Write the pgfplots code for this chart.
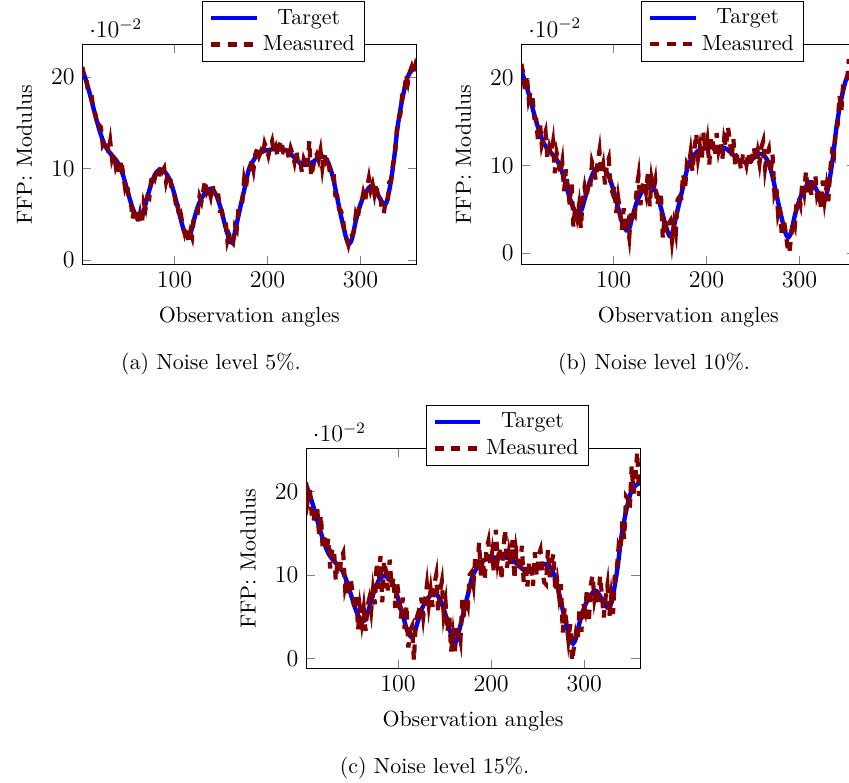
\documentclass[border=0pt]{standalone}
\usepackage{pgfplots}
\usepackage{pgfplotstable}
\pgfplotsset{compat=1.18}
\definecolor{tgtblue}{RGB}{0,0,255}
\definecolor{measred}{RGB}{128,0,0}

% values in units of 10^-2
\pgfplotstableread[row sep=\\]{
x y\\
1 20.8\\ 5 19.6\\ 10 17.8\\ 15 15.8\\ 20 14.0\\ 25 12.6\\ 30 11.8\\ 35 11.2\\ 40 10.5\\ 45 9.2\\
50 7.4\\ 55 5.7\\ 60 4.6\\ 63 4.5\\ 66 5.0\\ 70 6.5\\ 75 8.3\\ 80 9.5\\ 85 9.9\\ 90 9.6\\
95 8.8\\ 100 7.2\\ 105 5.2\\ 110 3.3\\ 114 2.6\\ 117 2.8\\ 120 4.0\\ 125 5.8\\ 130 6.9\\ 135 7.6\\
140 7.8\\ 145 7.1\\ 150 5.6\\ 155 3.6\\ 160 2.0\\ 163 2.2\\ 167 4.0\\ 172 6.3\\ 176 8.1\\ 180 9.9\\
185 10.9\\ 190 11.6\\ 195 11.9\\ 200 12.0\\ 205 12.1\\ 210 12.1\\ 215 12.1\\ 220 12.0\\ 225 11.6\\ 230 11.1\\
235 10.6\\ 240 10.4\\ 245 10.5\\ 250 10.8\\ 255 11.2\\ 260 11.3\\ 265 10.7\\ 270 9.2\\ 275 6.8\\ 280 4.4\\
285 2.3\\ 288 1.8\\ 291 2.4\\ 295 4.3\\ 300 6.1\\ 305 7.3\\ 310 8.0\\ 313 8.1\\ 317 7.5\\ 320 6.9\\
325 6.1\\ 328 6.3\\ 332 8.2\\ 336 11.0\\ 340 14.6\\ 345 17.6\\ 350 19.8\\ 355 20.7\\ 360 21.0\\
}\target

\pgfplotstableread[row sep=\\]{
x y\\
1 21.1\\ 3 20.0\\ 5 20.1\\ 7 18.48\\ 9 18.26\\ 11 18.0\\ 13 16.3\\ 15 16.0\\ 17 14.58\\ 19 14.76\\
21 14.52\\ 23 12.56\\ 25 12.9\\ 27 13.18\\ 29 11.76\\ 31 12.98\\ 33 11.04\\ 35 11.7\\ 37 10.22\\ 39 10.84\\
41 9.24\\ 43 10.92\\ 45 9.3\\ 47 7.88\\ 49 8.46\\ 51 6.76\\ 53 6.58\\ 55 4.5\\ 57 5.76\\ 59 5.12\\
61 4.17\\ 63 5.1\\ 65 3.93\\ 67 6.28\\ 69 5.63\\ 71 6.96\\ 73 6.78\\ 75 8.7\\ 77 9.48\\ 79 8.96\\
81 9.78\\ 83 9.14\\ 85 10.3\\ 87 9.68\\ 89 10.06\\ 91 8.54\\ 93 9.42\\ 95 9.4\\ 97 7.76\\ 99 7.72\\
101 6.5\\ 103 6.8\\ 105 4.5\\ 107 4.94\\ 109 3.78\\ 111 2.93\\ 113 3.68\\ 115 2.17\\ 117 3.1\\ 119 2.5\\
121 4.76\\ 123 5.28\\ 125 5.2\\ 127 6.94\\ 129 6.38\\ 131 7.54\\ 133 8.72\\ 135 7.4\\ 137 7.78\\ 139 6.96\\
141 8.26\\ 143 6.98\\ 145 7.4\\ 147 7.3\\ 149 5.4\\ 151 5.4\\ 153 4.3\\ 155 4.3\\ 157 2.06\\ 159 2.72\\
161 2.17\\ 163 1.9\\ 165 3.7\\ 167 3.3\\ 169 5.82\\ 171 6.04\\ 173 6.35\\ 175 8.85\\ 177 7.95\\ 179 9.75\\
181 9.9\\ 183 11.0\\ 185 9.9\\ 187 11.58\\ 189 12.16\\ 191 11.36\\ 193 11.88\\ 195 11.4\\ 197 12.74\\ 199 12.18\\
201 11.42\\ 203 12.36\\ 205 13.0\\ 207 11.7\\ 209 12.3\\ 211 11.3\\ 213 12.6\\ 215 13.1\\ 217 11.76\\ 219 11.72\\
221 12.32\\ 223 11.06\\ 225 12.2\\ 227 11.6\\ 229 10.7\\ 231 12.0\\ 233 10.6\\ 235 10.9\\ 237 9.62\\ 239 11.04\\
241 10.52\\ 243 10.06\\ 245 13.0\\ 247 9.12\\ 249 10.14\\ 251 11.08\\ 253 11.54\\ 255 10.9\\ 257 11.94\\ 259 10.08\\
261 11.58\\ 263 10.84\\ 265 11.3\\ 267 9.6\\ 269 9.8\\ 271 9.62\\ 273 7.06\\ 275 7.0\\ 277 5.54\\ 279 5.38\\
281 4.78\\ 283 2.74\\ 285 2.4\\ 287 1.67\\ 289 2.6\\ 291 2.7\\ 293 3.15\\ 295 5.0\\ 297 4.42\\ 299 6.14\\
301 6.24\\ 303 7.32\\ 305 6.5\\ 307 7.88\\ 309 8.96\\ 311 7.63\\ 313 8.3\\ 315 7.2\\ 317 8.4\\ 319 6.8\\
321 7.14\\ 323 5.42\\ 325 5.1\\ 327 6.43\\ 329 6.28\\ 331 8.53\\ 333 8.7\\ 335 10.6\\ 337 11.2\\ 339 14.2\\
341 15.3\\ 343 16.0\\ 345 18.3\\ 347 18.18\\ 349 20.26\\ 351 19.38\\ 353 20.54\\ 355 21.1\\ 357 20.32\\ 359 21.24\\
360 20.9\\
}\measA

\pgfplotstableread[row sep=\\]{
x y\\
1 21.6\\ 3 20.6\\ 5 18.4\\ 7 20.28\\ 9 17.56\\ 11 18.4\\ 13 17.8\\ 15 15.4\\ 17 15.28\\ 19 12.76\\
21 14.92\\ 23 12.36\\ 25 13.2\\ 27 13.88\\ 29 10.96\\ 31 12.08\\ 33 11.24\\ 35 12.6\\ 37 9.12\\ 39 11.44\\
41 10.44\\ 43 9.12\\ 45 10.4\\ 47 7.08\\ 49 9.56\\ 51 7.46\\ 53 5.58\\ 55 8.1\\ 57 3.06\\ 59 5.42\\
61 4.17\\ 63 5.5\\ 65 2.83\\ 67 6.18\\ 69 7.53\\ 71 6.26\\ 73 7.78\\ 75 7.3\\ 77 10.38\\ 79 9.66\\
81 8.38\\ 83 10.34\\ 85 11.7\\ 87 8.98\\ 89 10.06\\ 91 7.84\\ 93 10.12\\ 95 10.8\\ 97 7.56\\ 99 6.92\\
101 7.6\\ 103 4.6\\ 105 6.4\\ 107 4.84\\ 109 2.68\\ 111 5.13\\ 113 2.38\\ 115 3.27\\ 117 1.8\\ 119 4.8\\
121 4.56\\ 123 4.28\\ 125 7.4\\ 127 8.84\\ 129 5.48\\ 131 7.44\\ 133 8.32\\ 135 7.0\\ 137 9.08\\ 139 5.36\\
141 8.46\\ 143 7.18\\ 145 8.3\\ 147 5.5\\ 149 6.5\\ 151 7.0\\ 153 1.8\\ 155 4.0\\ 157 2.36\\ 159 3.32\\
161 3.67\\ 163 1.4\\ 165 3.3\\ 167 2.2\\ 169 6.12\\ 171 6.44\\ 173 6.35\\ 175 9.05\\ 177 7.35\\ 179 10.25\\
181 9.9\\ 183 11.5\\ 185 9.3\\ 187 11.78\\ 189 13.66\\ 191 10.86\\ 193 12.18\\ 195 10.7\\ 197 13.74\\ 199 11.38\\
201 12.82\\ 203 10.06\\ 205 13.3\\ 207 12.5\\ 209 11.1\\ 211 13.7\\ 213 11.7\\ 215 12.7\\ 217 10.66\\ 219 13.02\\
221 12.12\\ 223 14.46\\ 225 13.0\\ 227 10.8\\ 229 13.0\\ 231 9.8\\ 233 11.2\\ 235 11.4\\ 237 9.52\\ 239 11.04\\
241 11.02\\ 243 10.06\\ 245 11.5\\ 247 9.82\\ 249 10.94\\ 251 12.08\\ 253 10.44\\ 255 11.6\\ 257 10.24\\ 259 12.08\\
261 12.78\\ 263 9.74\\ 265 11.3\\ 267 11.9\\ 269 9.1\\ 271 11.32\\ 273 6.96\\ 275 7.8\\ 277 4.44\\ 279 5.28\\
281 1.98\\ 283 3.94\\ 285 2.5\\ 287 0.77\\ 289 0.0\\ 291 1.8\\ 293 3.75\\ 295 3.1\\ 297 6.02\\ 299 6.34\\
301 5.54\\ 303 8.02\\ 305 6.9\\ 307 9.38\\ 309 6.86\\ 311 8.23\\ 313 6.5\\ 315 8.6\\ 317 8.9\\ 319 6.5\\
321 7.14\\ 323 5.22\\ 325 8.3\\ 327 6.03\\ 329 7.58\\ 331 5.93\\ 333 9.5\\ 335 11.5\\ 337 11.1\\ 339 14.1\\
341 14.6\\ 343 18.0\\ 345 16.2\\ 347 19.48\\ 349 19.56\\ 351 19.58\\ 353 22.14\\ 355 19.7\\ 357 21.42\\ 359 18.74\\
360 21.0\\
}\measB

\pgfplotstableread[row sep=\\]{
x y\\
1 21.1\\ 3 19.0\\ 5 20.5\\ 7 17.38\\ 9 16.36\\ 11 18.0\\ 13 18.1\\ 15 14.9\\ 17 17.18\\ 19 13.0\\
21 14.92\\ 23 12.86\\ 25 14.4\\ 27 10.78\\ 29 12.86\\ 31 13.2\\ 33 9.34\\ 35 11.8\\ 37 10.02\\ 39 12.14\\
41 12.64\\ 43 8.52\\ 45 9.5\\ 47 7.4\\ 49 9.56\\ 51 7.96\\ 53 5.78\\ 55 7.8\\ 57 3.46\\ 59 6.02\\
61 4.27\\ 63 6.0\\ 65 3.3\\ 67 6.28\\ 69 7.2\\ 71 5.66\\ 73 8.18\\ 75 6.5\\ 77 11.48\\ 79 8.36\\
81 12.28\\ 83 6.74\\ 85 11.7\\ 87 10.38\\ 89 8.16\\ 91 11.84\\ 93 8.52\\ 95 9.7\\ 97 6.06\\ 99 9.02\\
101 7.1\\ 103 4.8\\ 105 7.3\\ 107 3.54\\ 109 6.38\\ 111 1.33\\ 113 3.38\\ 115 3.87\\ 117 -0.2\\ 119 4.5\\
121 5.26\\ 123 4.48\\ 125 7.3\\ 127 5.04\\ 129 6.98\\ 131 8.84\\ 133 6.42\\ 135 8.2\\ 137 6.18\\ 139 8.96\\
141 10.06\\ 143 5.58\\ 145 8.0\\ 147 9.2\\ 149 5.3\\ 151 6.7\\ 153 3.2\\ 155 5.1\\ 157 0.86\\ 159 2.92\\
161 0.9\\ 163 3.4\\ 165 3.4\\ 167 2.2\\ 169 7.02\\ 171 4.94\\ 173 7.35\\ 175 6.45\\ 177 10.05\\ 179 10.35\\
181 8.9\\ 183 12.3\\ 185 10.3\\ 187 13.88\\ 189 9.96\\ 191 11.96\\ 193 9.38\\ 195 13.1\\ 197 14.04\\ 199 11.08\\
201 12.62\\ 203 10.26\\ 205 15.4\\ 207 11.8\\ 209 13.3\\ 211 9.4\\ 213 13.0\\ 215 15.4\\ 217 10.86\\ 219 12.62\\
221 11.02\\ 223 14.16\\ 225 9.5\\ 227 12.9\\ 229 11.5\\ 231 10.4\\ 233 13.5\\ 235 9.1\\ 237 11.42\\ 239 8.64\\
241 11.62\\ 243 11.06\\ 245 8.7\\ 247 12.72\\ 249 9.84\\ 251 12.38\\ 253 13.04\\ 255 10.6\\ 257 9.14\\ 259 8.88\\
261 12.98\\ 263 9.74\\ 265 11.6\\ 267 12.5\\ 269 8.0\\ 271 9.32\\ 273 7.46\\ 275 8.9\\ 277 3.14\\ 279 6.08\\
281 4.28\\ 283 2.24\\ 285 4.1\\ 287 -0.28\\ 289 1.4\\ 291 3.0\\ 293 2.15\\ 295 6.1\\ 297 3.22\\ 299 6.64\\
301 5.74\\ 303 8.32\\ 305 4.3\\ 307 8.78\\ 309 9.96\\ 311 7.13\\ 313 8.4\\ 315 6.3\\ 317 9.9\\ 319 7.7\\
321 4.94\\ 323 7.32\\ 325 8.8\\ 327 5.03\\ 329 7.38\\ 331 5.33\\ 333 10.4\\ 335 10.6\\ 337 13.4\\ 339 12.8\\
341 16.4\\ 343 14.3\\ 345 19.4\\ 347 19.08\\ 349 17.86\\ 351 22.98\\ 353 19.74\\ 355 21.6\\ 357 24.72\\ 359 19.44\\
360 21.2\\
}\measC

\pgfplotsset{
  myax/.style={
    scale only axis, width=167pt, height=110pt,
    anchor=north west,
    xmin=1, xmax=360, xtick={100,200,300},
    ytick={0,0.1,0.2}, scaled y ticks=base 10:2,
    tick label style={font=\fontsize{12}{14}\selectfont},
    every y tick scale label/.append style={font=\fontsize{12}{14}\selectfont},
    xlabel={Observation angles}, ylabel={FFP: Modulus},
    xlabel shift=2pt, ylabel shift=2pt,
    legend style={at={(0.847,1.2)}, anchor=north east},
    legend cell align=center,
    legend image code/.code={\draw[##1] (0cm,0cm) -- (0.8cm,0cm);},
  },
  tgt/.style={color=tgtblue, line width=2.2pt, smooth},
  meas/.style={color=measred, line width=2.1pt, dash pattern=on 4.5pt off 3.8pt},
}

\begin{document}
\fontsize{10.95}{13.6}\selectfont
\begin{tikzpicture}
\path[use as bounding box] (0,0) rectangle (424.5pt,-391pt);
\clip (0,0) rectangle (424.5pt,-391pt);

\begin{axis}[myax, at={(41.15pt,-22.4pt)}, ymin=-0.005, ymax=0.235]
\addplot[tgt] table[x=x, y expr=\thisrow{y}/100] {\target};
\addlegendentry{Target}
\addplot[meas] table[x=x, y expr=\thisrow{y}/100] {\measA};
\addlegendentry{Measured}
\end{axis}

\begin{axis}[myax, at={(260.65pt,-22.3pt)}, ymin=-0.013, ymax=0.238]
\addplot[tgt] table[x=x, y expr=\thisrow{y}/100] {\target};
\addlegendentry{Target}
\addplot[meas] table[x=x, y expr=\thisrow{y}/100] {\measB};
\addlegendentry{Measured}
\end{axis}

\begin{axis}[myax, at={(153pt,-224.35pt)}, ymin=-0.012, ymax=0.251]
\addplot[tgt] table[x=x, y expr=\thisrow{y}/100] {\target};
\addlegendentry{Target}
\addplot[meas] table[x=x, y expr=\thisrow{y}/100] {\measC};
\addlegendentry{Measured}
\end{axis}

\node[anchor=base] at (105.5pt,-184.5pt) {(a) Noise level 5\%.};
\node[anchor=base] at (327pt,-184.5pt) {(b) Noise level 10\%.};
\node[anchor=base] at (217.25pt,-386.5pt) {(c) Noise level 15\%.};
\end{tikzpicture}
\end{document}
